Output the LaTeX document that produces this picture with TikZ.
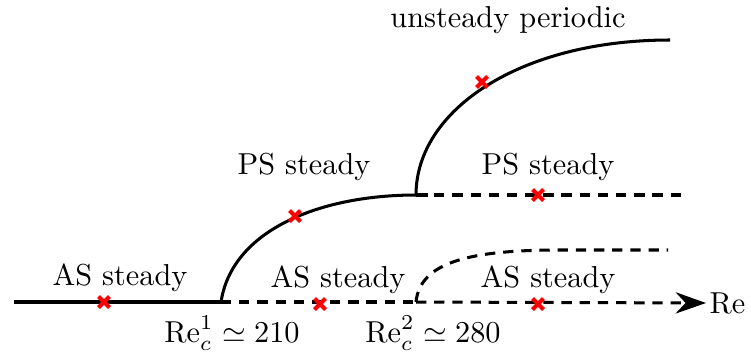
\documentclass[tikz,border=0pt]{standalone}
\usetikzlibrary{arrows.meta}

\tikzset{
  branch/.style={line width=1pt},
  unstable/.style={line width=1pt, dash pattern=on 3.4pt off 2.6pt},
  mark x/.style={red, line width=1.3pt},
}
\newcommand{\redx}[1]{%
  \draw[mark x] (#1) ++(-5.5,-5.5) -- ++(11,11) ++(0,-11) -- ++(-11,11);}

\begin{document}
\begin{tikzpicture}[x=0.0116cm,y=-0.0116cm]
\useasboundingbox (0,0) rectangle (751,354);
% bifurcation points and ends
\coordinate (o) at (14,302);
\coordinate (b1) at (221,302);
\coordinate (b2) at (416,302);
\coordinate (p1) at (416,195);
\coordinate (pend) at (682,195);
\coordinate (uend) at (670,40);
\coordinate (aend) at (668,250);
\coordinate (a2) at (560,250);
\coordinate (axend) at (706,303);
% axis
\draw[branch] (o) -- (b1);
\draw[unstable] (b1) -- (b2);
\draw[unstable, -{Stealth[length=10pt,width=7pt]}] (b2) -- (axend);
\node[anchor=west, inner sep=1pt] (re) at (axend) {Re};
% branches
\draw[branch] (b1) .. controls (232,230) and (320,195) .. (p1);
\draw[unstable] (p1) -- (pend);
\draw[branch] (p1) .. controls (416,110) and (520,40) .. (uend);
\draw[unstable] (b2) .. controls (420,262) and (470,250) .. (a2) -- (aend);
\draw[branch] (p1) -- ++(12,0);
% crosses
\redx{104,302}
\redx{320,304}
\redx{538,304}
\redx{295,216}
\redx{538,195}
\redx{482,82}
% labels
\node (as1) at (120,278) {AS steady};
\node (as2) at (338,280) {AS steady};
\node (as3) at (548,280) {AS steady};
\node (ps1) at (304,167) {PS steady};
\node (ps2) at (548,167) {PS steady};
\node (up) at (508,20) {unsteady periodic};
\node (rc1) at (232,333) {$\mathrm{Re}_c^1 \simeq 210$};
\node (rc2) at (433,333) {$\mathrm{Re}_c^2 \simeq 280$};
\end{tikzpicture}
\end{document}
